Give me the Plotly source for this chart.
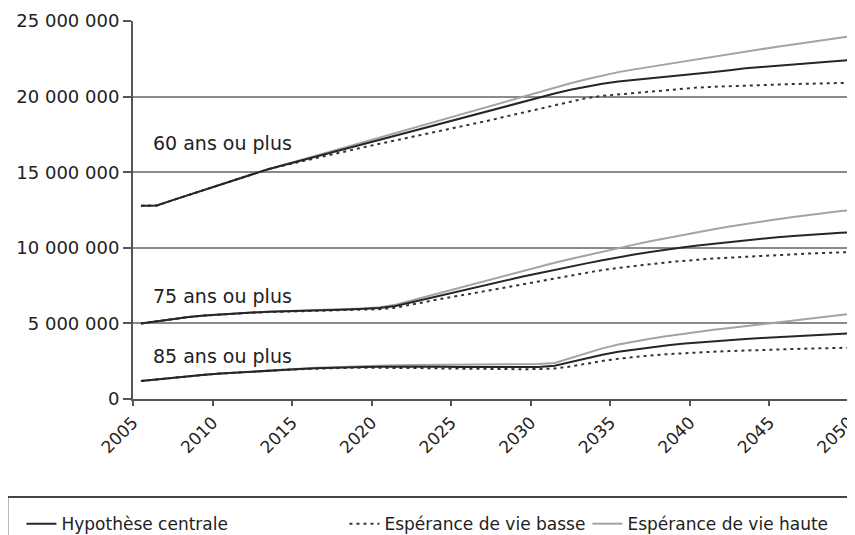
import plotly.graph_objects as go

years = list(range(2005, 2051))
tick_years = [2005, 2010, 2015, 2020, 2025, 2030, 2035, 2040, 2045, 2050]
y_ticks = [0, 5_000_000, 10_000_000, 15_000_000, 20_000_000, 25_000_000]

# Values in millions
p60_central = [12.78, 12.80, 13.15, 13.50, 13.85, 14.20, 14.55, 14.90, 15.20, 15.48,
               15.76, 16.04, 16.32, 16.60, 16.88, 17.15, 17.43, 17.71, 17.99, 18.27,
               18.55, 18.83, 19.11, 19.39, 19.67, 19.95, 20.20, 20.45, 20.65, 20.85,
               21.00, 21.10, 21.20, 21.30, 21.40, 21.50, 21.62, 21.75, 21.88, 21.96,
               22.04, 22.12, 22.20, 22.28, 22.36, 22.45]
p60_low = [12.78, 12.80, 13.15, 13.50, 13.85, 14.20, 14.55, 14.90, 15.20, 15.45,
           15.70, 15.95, 16.20, 16.45, 16.65, 16.88, 17.10, 17.33, 17.55, 17.78,
           18.00, 18.23, 18.45, 18.70, 18.95, 19.20, 19.45, 19.70, 19.90, 20.05,
           20.15, 20.25, 20.35, 20.45, 20.53, 20.60, 20.65, 20.70, 20.73, 20.76,
           20.80, 20.83, 20.86, 20.88, 20.90, 20.92]
p60_high = [12.78, 12.80, 13.15, 13.50, 13.85, 14.20, 14.55, 14.90, 15.20, 15.50,
            15.80, 16.10, 16.40, 16.70, 17.00, 17.30, 17.60, 17.90, 18.20, 18.50,
            18.80, 19.10, 19.40, 19.70, 20.00, 20.30, 20.60, 20.88, 21.15, 21.40,
            21.62, 21.80, 21.97, 22.14, 22.30, 22.47, 22.65, 22.83, 23.00, 23.15,
            23.30, 23.45, 23.60, 23.75, 23.90, 24.05]

p75_central = [5.00, 5.15, 5.30, 5.42, 5.52, 5.60, 5.66, 5.72, 5.77, 5.81,
               5.84, 5.87, 5.89, 5.92, 5.96, 6.02, 6.15, 6.40, 6.65, 6.90,
               7.15, 7.38, 7.62, 7.86, 8.10, 8.32, 8.55, 8.76, 8.97, 9.18,
               9.38, 9.55, 9.72, 9.88, 10.02, 10.15, 10.27, 10.39, 10.50, 10.60,
               10.70, 10.78, 10.86, 10.93, 10.99, 11.04]
p75_low = [5.00, 5.15, 5.30, 5.42, 5.52, 5.60, 5.66, 5.71, 5.75, 5.78,
           5.80, 5.82, 5.84, 5.87, 5.90, 5.94, 6.04, 6.25, 6.45, 6.65,
           6.83, 7.02, 7.22, 7.42, 7.62, 7.80, 7.99, 8.17, 8.35, 8.53,
           8.67, 8.80, 8.92, 9.03, 9.13, 9.22, 9.29, 9.35, 9.41, 9.47,
           9.52, 9.57, 9.62, 9.66, 9.70, 9.74]
p75_high = [5.00, 5.15, 5.30, 5.42, 5.52, 5.60, 5.66, 5.72, 5.77, 5.82,
            5.86, 5.89, 5.92, 5.95, 5.99, 6.07, 6.24, 6.52, 6.80, 7.08,
            7.36, 7.64, 7.93, 8.21, 8.49, 8.75, 9.01, 9.26, 9.51, 9.76,
            9.99, 10.21, 10.43, 10.64, 10.85, 11.04, 11.23, 11.41, 11.58, 11.74,
            11.89, 12.04, 12.18, 12.31, 12.43, 12.53]

p85_central = [1.19, 1.30, 1.40, 1.50, 1.60, 1.68, 1.75, 1.82, 1.88, 1.94,
               1.99, 2.03, 2.07, 2.10, 2.12, 2.14, 2.15, 2.15, 2.14, 2.13,
               2.12, 2.11, 2.10, 2.10, 2.10, 2.12, 2.20, 2.45, 2.70, 2.93,
               3.13, 3.28, 3.42, 3.54, 3.65, 3.74, 3.82, 3.90, 3.97, 4.04,
               4.10, 4.16, 4.22, 4.27, 4.32, 4.36]
p85_low = [1.19, 1.30, 1.40, 1.50, 1.60, 1.68, 1.75, 1.82, 1.88, 1.93,
           1.97, 2.01, 2.04, 2.06, 2.07, 2.07, 2.07, 2.06, 2.04, 2.02,
           2.00, 1.99, 1.98, 1.97, 1.97, 1.98, 2.02, 2.15, 2.35, 2.52,
           2.66, 2.78, 2.88, 2.96, 3.03, 3.08, 3.13, 3.17, 3.21, 3.25,
           3.28, 3.31, 3.34, 3.36, 3.38, 3.40]
p85_high = [1.19, 1.30, 1.40, 1.50, 1.60, 1.68, 1.75, 1.82, 1.88, 1.95,
            2.01, 2.06, 2.10, 2.14, 2.18, 2.21, 2.23, 2.25, 2.26, 2.27,
            2.28, 2.28, 2.28, 2.28, 2.29, 2.31, 2.38, 2.70, 3.05, 3.35,
            3.60, 3.80, 3.98, 4.15, 4.30, 4.45, 4.58, 4.70, 4.82, 4.95,
            5.08, 5.20, 5.33, 5.45, 5.57, 5.68]

group_labels = ["60 ans ou plus", "75 ans ou plus", "85 ans ou plus"]
label_pos = [16.93, 6.81, 2.84]  # millions, where the group label sits
scenario_names = ["Hypothèse centrale", "Espérance de vie basse", "Espérance de vie haute"]

FONT = "DejaVu Sans"
C_CENTRAL = "#262626"
C_LOW = "#333333"
C_HIGH = "#a3a3a3"

styles = {
    "central": dict(color=C_CENTRAL, width=2),
    "low": dict(color=C_LOW, width=2, dash="3px,4px"),
    "high": dict(color=C_HIGH, width=2),
}

groups = [
    (p60_central, p60_low, p60_high),
    (p75_central, p75_low, p75_high),
    (p85_central, p85_low, p85_high),
]

fig = go.Figure()
legend_widths = [278, 198, 200]
for gi, (c, lo, hi) in enumerate(groups):
    for key, series, name, lw in [("high", hi, scenario_names[2], legend_widths[2]),
                                  ("low", lo, scenario_names[1], legend_widths[1]),
                                  ("central", c, scenario_names[0], legend_widths[0])]:
        order = {"central": 1, "low": 2, "high": 3}[key]
        fig.add_trace(go.Scatter(
            x=years, y=[v * 1_000_000 for v in series],
            mode="lines", line=styles[key], name=name,
            legendgroup=key, showlegend=(gi == 0), legendrank=order,
            legendwidth=lw, hoverinfo="skip",
        ))

for text, yv in zip(group_labels, label_pos):
    fig.add_annotation(x=2005.66, y=yv * 1_000_000, xref="x", yref="y",
                       text=text, showarrow=False, xanchor="left", yanchor="middle",
                       font=dict(family=FONT, size=19, color="#222"))

# legend frame
fig.add_shape(type="rect", xref="paper", yref="paper",
              x0=-0.174, x1=1.05, y0=-0.259, y1=-0.40,
              line=dict(color="#444", width=2), fillcolor="rgba(0,0,0,0)", layer="above")

# the page body has an 8px default margin, so the figure is sized to fit the window
fig.update_layout(
    width=847, height=527,
    margin=dict(l=125, r=0, t=13, b=136, autoexpand=False),
    paper_bgcolor="white", plot_bgcolor="white",
    separators=", ",
    font=dict(family=FONT, size=18, color="#222"),
    showlegend=True,
    legend=dict(orientation="h", x=-0.1545, xanchor="left", y=-0.331, yanchor="middle",
                bgcolor="rgba(0,0,0,0)", borderwidth=0,
                font=dict(family=FONT, size=17, color="#222"), traceorder="normal"),
    xaxis=dict(range=[2004.5, 2049.88], tickvals=[t - 0.5 for t in tick_years],
               ticktext=[str(t) for t in tick_years], tickangle=-45, automargin=False,
               ticklabeloverflow="allow",
               showgrid=False, zeroline=False, showline=True, linecolor="#555", linewidth=2,
               ticks="outside", ticklen=5, tickwidth=2, tickcolor="#555",
               tickfont=dict(family=FONT, size=17, color="#222")),
    yaxis=dict(range=[0, 25_000_000], tickvals=y_ticks, tickformat=",d", automargin=False,
               showgrid=True, gridcolor="#8a8a8a", gridwidth=2, zeroline=False,
               showline=True, linecolor="#555", linewidth=2,
               ticks="outside", ticklen=8, tickwidth=2, tickcolor="#555",
               tickfont=dict(family=FONT, size=18, color="#222")),
)

fig.write_html("out.html")
